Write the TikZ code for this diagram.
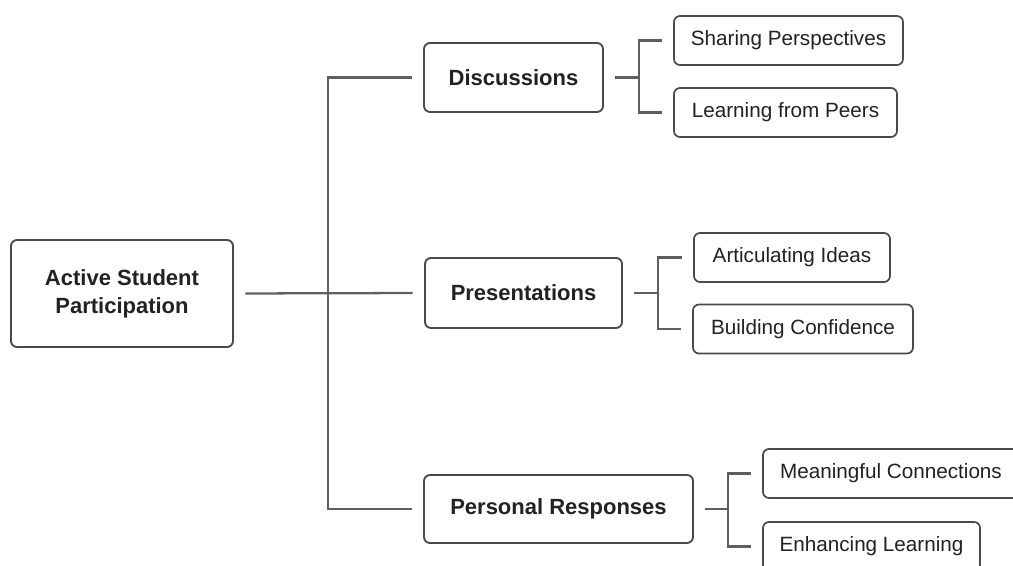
\documentclass[tikz,border=0pt]{standalone}
\usepackage{fontspec}
\setmainfont{Liberation Sans}
\definecolor{edgegray}{HTML}{5F5F5F}
\definecolor{boxgray}{HTML}{4A4A4A}
\definecolor{inkgray}{HTML}{222222}
\tikzset{
  topic/.style={draw=boxgray, line width=1.4pt, rounded corners=4.5pt, fill=white, text=inkgray,
    font=\fontsize{16.5}{21}\selectfont\bfseries, align=center, inner sep=0pt},
  leaf/.style={draw=boxgray, line width=1.3pt, rounded corners=4.5pt, fill=white, text=inkgray,
    font=\fontsize{15.5}{19}\selectfont, inner sep=0pt, minimum height=36.75pt},
  link/.style={draw=edgegray, line width=1.7pt, shorten <=8.5pt, shorten >=8.5pt},
}

\begin{document}
\begin{tikzpicture}[x=0.75pt, y=-0.75pt]
\useasboundingbox (0,0) rectangle (1013,566);
\node[topic, minimum width=166.5pt, minimum height=80.25pt] (root) at (122,293.5) {Active Student\\Participation};
\node[topic, minimum width=134.25pt, minimum height=51.75pt] (disc) at (513.5,77.5) {Discussions};
\node[topic, minimum width=147.75pt, minimum height=52.5pt] (pres) at (523.5,293) {Presentations};
\node[topic, minimum width=201.75pt, minimum height=51pt] (resp) at (558.5,509) {Personal Responses};
\node[leaf, minimum width=171.75pt] (sp) at (788.5,40.5) {Sharing Perspectives};
\node[leaf, minimum width=167.25pt] (lp) at (785.5,112.5) {Learning from Peers};
\node[leaf, minimum width=147pt] (ai) at (792,257.5) {Articulating Ideas};
\node[leaf, minimum width=165pt] (bc) at (803,329) {Building Confidence};
\node[leaf, minimum width=192pt] (mc) at (891,473.5) {Meaningful Connections};
\node[leaf, minimum width=162.75pt] (el) at (871.5,546.5) {Enhancing Learning};
\coordinate (hub) at (328,293);
\coordinate (db) at (639,77.5);
\coordinate (pb) at (658,293);
\coordinate (rb) at (728,509);
\draw[link] (root.east) -- (pres.west);
\draw[link] (disc.west) -| (hub) |- (resp.west);
\draw[link, shorten >=0pt] (disc.east) -- (db);
\draw[link] (sp.west) -| (db) |- (lp.west);
\draw[link, shorten >=0pt] (pres.east) -- (pb);
\draw[link] (ai.west) -| (pb) |- (bc.west);
\draw[link, shorten >=0pt] (resp.east) -- (rb);
\draw[link] (mc.west) -| (rb) |- (el.west);
\end{tikzpicture}
\end{document}
